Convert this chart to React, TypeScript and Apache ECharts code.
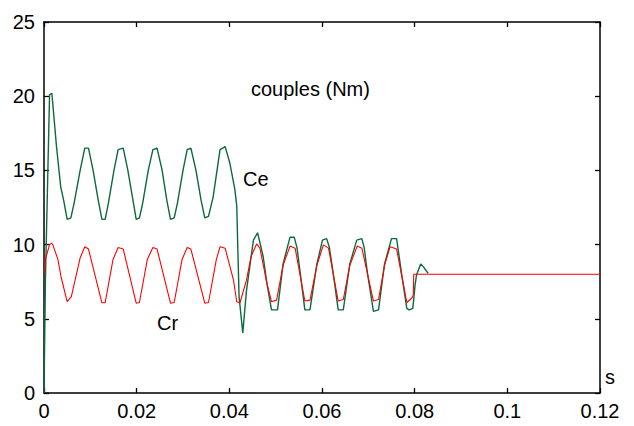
import React, { useEffect, useRef } from "react";
import * as echarts from "echarts";

// Time axis ticks (s) and torque ticks (Nm)
const xTickLabels = ["0", "0.02", "0.04", "0.06", "0.08", "0.1", "0.12"];
const yTickLabels = ["0", "5", "10", "15", "20", "25"];

// Ce : electromagnetic torque, [t (s), value (Nm)]
const ceData: [number, number][] = [
  [0, 0], [0.0003, 7.5], [0.0012, 20.1], [0.0017, 20.2], [0.0027, 16.6],
  [0.0036, 13.9], [0.0043, 12.9], [0.005, 11.7], [0.0058, 11.8], [0.0065, 12.8],
  [0.0078, 15.0], [0.0088, 16.5], [0.0096, 16.5], [0.0106, 15.0], [0.0117, 13.0],
  [0.0125, 11.7], [0.0132, 11.7], [0.0139, 12.8], [0.0151, 15.0], [0.016, 16.4],
  [0.0171, 16.5], [0.0181, 15.0], [0.0192, 13.0], [0.0199, 11.7], [0.0206, 11.8],
  [0.0213, 12.8], [0.0225, 15.0], [0.0235, 16.4], [0.0244, 16.5], [0.0255, 15.0],
  [0.0265, 13.0], [0.0273, 11.7], [0.0281, 11.8], [0.0288, 12.8], [0.03, 15.0],
  [0.0309, 16.4], [0.0317, 16.5], [0.0328, 15.0], [0.0339, 13.0], [0.0347, 11.8],
  [0.0355, 11.9], [0.0365, 13.2], [0.038, 16.4], [0.0391, 16.6], [0.0401, 15.5],
  [0.0412, 13.7], [0.0416, 12.6], [0.0421, 6.5], [0.0429, 4.05], [0.0437, 6.9],
  [0.0452, 10.3], [0.0461, 10.8], [0.0473, 9.2], [0.0481, 7.4], [0.0491, 5.6],
  [0.0504, 5.6], [0.0516, 8.7], [0.0531, 10.5], [0.054, 10.5], [0.0546, 9.8],
  [0.0553, 8.1], [0.0563, 5.6], [0.0574, 5.6], [0.0589, 8.7], [0.0601, 10.3],
  [0.061, 10.4], [0.0616, 9.8], [0.0624, 8.1], [0.0635, 5.6], [0.0646, 5.6],
  [0.066, 8.7], [0.0675, 10.3], [0.0686, 10.4], [0.0691, 9.8], [0.0698, 8.1],
  [0.0711, 5.5], [0.0722, 5.6], [0.0735, 8.7], [0.075, 10.4], [0.0761, 10.4],
  [0.0772, 8.0], [0.0783, 5.7], [0.0788, 5.6], [0.0796, 5.7], [0.0801, 7.3],
  [0.0804, 7.95], [0.0813, 8.7], [0.0819, 8.5], [0.0829, 8.07],
];

// Cr : load torque, [t (s), value (Nm)]
const crData: [number, number][] = [
  [0, 8.07], [0.0003, 9.0], [0.0012, 10.0], [0.0016, 10.1], [0.0019, 10.0],
  [0.003, 9.0], [0.0037, 7.8], [0.005, 6.15], [0.0059, 6.5], [0.0078, 9.1],
  [0.0088, 9.86], [0.0096, 9.7], [0.0125, 6.08], [0.0132, 6.08], [0.0149, 9.0],
  [0.016, 9.8], [0.0171, 9.7], [0.0199, 6.05], [0.0206, 6.1], [0.0223, 9.0],
  [0.0235, 9.8], [0.0244, 9.7], [0.0273, 6.05], [0.0281, 6.1], [0.0298, 9.0],
  [0.0309, 9.8], [0.0317, 9.7], [0.0347, 6.05], [0.0355, 6.1], [0.0372, 9.0],
  [0.038, 9.86], [0.0391, 9.76], [0.0409, 7.6], [0.0416, 6.15], [0.0423, 6.08],
  [0.0437, 7.6], [0.0447, 9.2], [0.0459, 10.05], [0.0466, 9.76], [0.0481, 7.4],
  [0.0491, 6.15], [0.0502, 6.26], [0.0516, 8.6], [0.0531, 9.9], [0.0542, 9.76],
  [0.0563, 6.2], [0.0574, 6.26], [0.0589, 8.6], [0.0603, 9.98], [0.0614, 9.76],
  [0.0635, 6.2], [0.0646, 6.3], [0.066, 8.6], [0.0676, 9.9], [0.0686, 9.76],
  [0.0711, 6.2], [0.0722, 6.3], [0.0735, 8.6], [0.0747, 9.86], [0.0761, 9.7],
  [0.0783, 6.1], [0.0794, 6.4], [0.0797, 6.6], [0.0798, 8.0], [0.12, 8.0],
];

const FONT = 'Arial, "Liberation Sans", Helvetica, sans-serif';

function axisLine() {
  return { show: true, onZero: false, lineStyle: { color: "#000", width: 1.5 } };
}
function axisTick() {
  return { show: true, inside: true, length: 5, lineStyle: { color: "#000", width: 1.3 } };
}

export default function App() {
  const ref = useRef<HTMLDivElement>(null);
  useEffect(() => {
    if (!ref.current) return;
    const chart = echarts.init(ref.current, null, { renderer: "svg" });
    const xLabel = (v: number) => xTickLabels[Math.round(v / 0.02)] ?? "";
    const yLabel = (v: number) => yTickLabels[Math.round(v / 5)] ?? "";
    const txt = (text: string, x: number, y: number) => ({
      type: "text",
      x,
      y,
      style: { text, fill: "#000", font: `20px ${FONT}`, verticalAlign: "middle", align: "left" },
    });
    chart.setOption({
      animation: false,
      backgroundColor: "#fff",
      grid: { left: 44, right: 34, top: 22, bottom: 33, containLabel: false },
      xAxis: [
        {
          type: "value", position: "bottom", min: 0, max: 0.12, interval: 0.02,
          axisLine: axisLine(), axisTick: axisTick(), splitLine: { show: false },
          axisLabel: { formatter: xLabel, color: "#000", fontSize: 20, fontFamily: FONT, margin: 8 },
        },
        {
          type: "value", position: "top", min: 0, max: 0.12, interval: 0.02,
          axisLine: axisLine(), axisTick: axisTick(), splitLine: { show: false },
          axisLabel: { show: false },
        },
      ],
      yAxis: [
        {
          type: "value", position: "left", min: 0, max: 25, interval: 5,
          axisLine: axisLine(), axisTick: axisTick(), splitLine: { show: false },
          axisLabel: { formatter: yLabel, color: "#000", fontSize: 20, fontFamily: FONT, margin: 9 },
        },
        {
          type: "value", position: "right", min: 0, max: 25, interval: 5,
          axisLine: axisLine(), axisTick: axisTick(), splitLine: { show: false },
          axisLabel: { show: false },
        },
      ],
      series: [
        {
          name: "Ce", type: "line", data: ceData, showSymbol: false, symbol: "none",
          lineStyle: { color: "#0b6a3a", width: 1.4 }, z: 2,
        },
        {
          name: "Cr", type: "line", data: crData, showSymbol: false, symbol: "none",
          lineStyle: { color: "#ff0000", width: 1.1 }, z: 3,
        },
      ],
      graphic: [
        txt("couples (Nm)", 251, 89),
        txt("Ce", 243, 179),
        txt("Cr", 157, 323),
        txt("s", 605, 377),
      ],
    });
    return () => chart.dispose();
  }, []);
  return (
    <div
      ref={ref}
      style={{ position: "fixed", left: 0, top: 0, width: 634, height: 426, background: "#fff" }}
    />
  );
}
